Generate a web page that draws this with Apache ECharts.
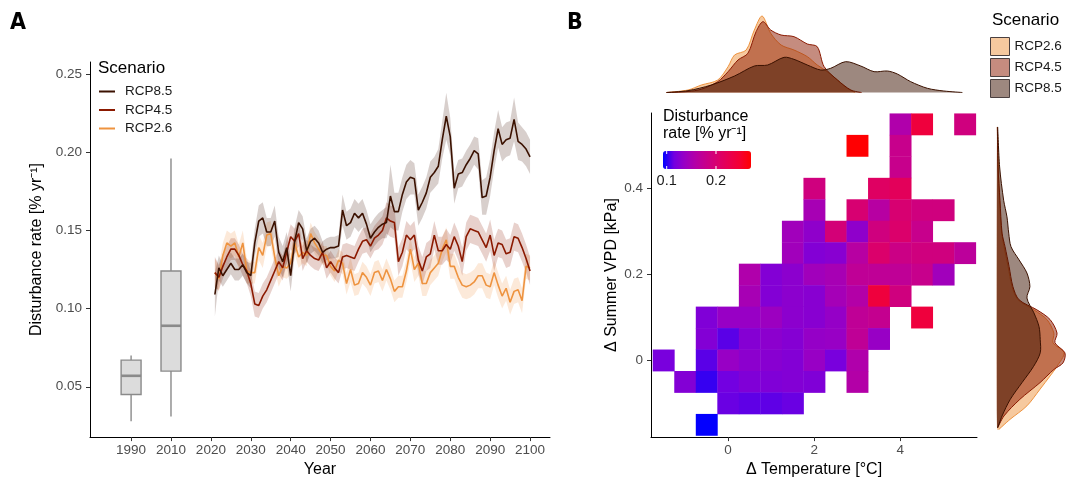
<!DOCTYPE html>
<html>
<head>
<meta charset="utf-8">
<script src="https://cdn.jsdelivr.net/npm/echarts@6/dist/echarts.min.js"></script>
<style>
  html, body { margin: 0; padding: 0; background: #fff; }
  #chart { width: 1067px; height: 483px; }
</style>
</head>
<body>
<div id="chart"></div>
<script>
// ---------- panel A: disturbance rate over time ----------
const years = [];
for (let y = 2021; y <= 2100; y++) years.push(y);

const rcp85 = [
  0.109, 0.126, 0.121, 0.125, 0.129, 0.125, 0.125, 0.128, 0.123, 0.121,
  0.142, 0.156, 0.158, 0.149, 0.149, 0.156, 0.136, 0.130, 0.139, 0.121,
  0.143, 0.155, 0.151, 0.137, 0.143, 0.145, 0.142, 0.136, 0.138, 0.139,
  0.139, 0.140, 0.163, 0.153, 0.155, 0.161, 0.158, 0.161, 0.154, 0.145,
  0.149, 0.152, 0.154, 0.155, 0.172, 0.162, 0.162, 0.173, 0.181, 0.184,
  0.183, 0.163, 0.168, 0.174, 0.184, 0.187, 0.191, 0.208, 0.223, 0.210,
  0.177, 0.186, 0.187, 0.192, 0.196, 0.201, 0.199, 0.171, 0.172, 0.184,
  0.201, 0.215, 0.205, 0.208, 0.209, 0.221, 0.207, 0.205, 0.202, 0.197
];
const rcp45 = [
  0.123, 0.120, 0.127, 0.133, 0.138, 0.138, 0.134, 0.128, 0.124, 0.116,
  0.103, 0.102, 0.108, 0.112, 0.118, 0.124, 0.130, 0.126, 0.136, 0.146,
  0.143, 0.148, 0.132, 0.137, 0.134, 0.132, 0.131, 0.136, 0.126, 0.130,
  0.126, 0.123, 0.133, 0.134, 0.133, 0.132, 0.138, 0.143, 0.144, 0.140,
  0.145, 0.147, 0.150, 0.158, 0.156, 0.155, 0.130, 0.136, 0.147, 0.144,
  0.147, 0.131, 0.124, 0.133, 0.135, 0.147, 0.137, 0.137, 0.141, 0.138,
  0.146, 0.140, 0.130, 0.146, 0.151, 0.150, 0.149, 0.144, 0.139, 0.147,
  0.134, 0.142, 0.141, 0.135, 0.136, 0.146, 0.145, 0.139, 0.132, 0.124
];
const rcp26 = [
  0.123, 0.119, 0.134, 0.142, 0.140, 0.142, 0.133, 0.142, 0.124, 0.123,
  0.123, 0.139, 0.134, 0.147, 0.148, 0.133, 0.121, 0.127, 0.126, 0.129,
  0.142, 0.133, 0.136, 0.134, 0.148, 0.142, 0.138, 0.134, 0.134, 0.127,
  0.124, 0.131, 0.129, 0.116, 0.125, 0.115, 0.116, 0.123, 0.120, 0.115,
  0.123, 0.124, 0.118, 0.125, 0.119, 0.111, 0.114, 0.114, 0.124, 0.138,
  0.125, 0.129, 0.116, 0.116, 0.123, 0.126, 0.129, 0.138, 0.144, 0.127,
  0.127, 0.120, 0.115, 0.114, 0.115, 0.117, 0.121, 0.121, 0.115, 0.114,
  0.123, 0.115, 0.108, 0.113, 0.104, 0.111, 0.112, 0.105, 0.127, 0.126
];
// half-width of the shaded uncertainty ribbons
const err85 = [
  0.014, 0.008, 0.007, 0.007, 0.007, 0.007, 0.007, 0.007, 0.007, 0.008,
  0.009, 0.010, 0.010, 0.009, 0.009, 0.010, 0.010, 0.010, 0.010, 0.010,
  0.009, 0.008, 0.008, 0.008, 0.008, 0.008, 0.008, 0.007, 0.007, 0.007,
  0.007, 0.007, 0.010, 0.009, 0.009, 0.009, 0.009, 0.009, 0.009, 0.009,
  0.009, 0.009, 0.009, 0.010, 0.020, 0.012, 0.012, 0.011, 0.011, 0.011,
  0.010, 0.010, 0.010, 0.010, 0.010, 0.010, 0.011, 0.012, 0.015, 0.012,
  0.010, 0.009, 0.009, 0.009, 0.009, 0.009, 0.010, 0.011, 0.012, 0.012,
  0.012, 0.012, 0.011, 0.011, 0.011, 0.014, 0.012, 0.011, 0.011, 0.011
];
const err45 = [
  0.010, 0.008, 0.008, 0.007, 0.007, 0.007, 0.007, 0.007, 0.008, 0.008,
  0.008, 0.008, 0.008, 0.008, 0.008, 0.008, 0.008, 0.008, 0.008, 0.008,
  0.008, 0.008, 0.008, 0.007, 0.007, 0.007, 0.007, 0.007, 0.007, 0.007,
  0.007, 0.007, 0.008, 0.008, 0.008, 0.008, 0.008, 0.008, 0.008, 0.008,
  0.008, 0.009, 0.009, 0.010, 0.010, 0.010, 0.009, 0.009, 0.009, 0.009,
  0.009, 0.009, 0.009, 0.009, 0.009, 0.009, 0.009, 0.009, 0.010, 0.009,
  0.009, 0.009, 0.009, 0.009, 0.009, 0.009, 0.009, 0.009, 0.009, 0.010,
  0.010, 0.009, 0.009, 0.009, 0.009, 0.009, 0.009, 0.009, 0.009, 0.009
];
const err26 = [
  0.009, 0.008, 0.008, 0.008, 0.008, 0.008, 0.008, 0.008, 0.008, 0.007,
  0.007, 0.008, 0.008, 0.008, 0.008, 0.007, 0.007, 0.007, 0.007, 0.007,
  0.007, 0.007, 0.007, 0.007, 0.007, 0.007, 0.007, 0.006, 0.006, 0.006,
  0.007, 0.007, 0.007, 0.007, 0.008, 0.007, 0.007, 0.007, 0.007, 0.007,
  0.007, 0.007, 0.007, 0.007, 0.007, 0.007, 0.007, 0.007, 0.007, 0.008,
  0.008, 0.008, 0.008, 0.008, 0.008, 0.008, 0.008, 0.008, 0.008, 0.008,
  0.008, 0.008, 0.008, 0.008, 0.008, 0.008, 0.008, 0.008, 0.008, 0.008,
  0.008, 0.008, 0.008, 0.008, 0.008, 0.008, 0.008, 0.008, 0.008, 0.008
];

// observed periods drawn as boxplots: [min, Q1, median, Q3, max]
const boxLabels = ['1990', '2010'];
const boxPositions = [2000, 2010];
const boxStats = [
  [0.028, 0.045, 0.057, 0.067, 0.070],
  [0.031, 0.060, 0.089, 0.124, 0.196]
];

const xTickValues = [2000, 2010, 2020, 2030, 2040, 2050, 2060, 2070, 2080, 2090, 2100];
const xTickLabels = ['1990', '2010', '2020', '2030', '2040', '2050', '2060', '2070', '2080', '2090', '2100'];
const yTicksA = [0.05, 0.10, 0.15, 0.20, 0.25];

// ---------- panel B: climate space heatmap ----------
const tempTicks = [0, 2, 4];
const vpdTicks = [0, 0.2, 0.4];
const binW = 0.5;   // degC
const binH = 0.05;  // kPa
// [delta temperature, delta VPD, disturbance rate]
const heatCells = [
  [4.0, 0.55, 0.155], [4.5, 0.55, 0.240], [5.5, 0.55, 0.190],
  [3.0, 0.50, 0.270], [4.0, 0.50, 0.179],
  [4.0, 0.45, 0.179],
  [2.0, 0.40, 0.190], [3.5, 0.40, 0.212], [4.0, 0.40, 0.218],
  [2.0, 0.35, 0.148], [3.0, 0.35, 0.200], [3.5, 0.35, 0.162], [4.0, 0.35, 0.200], [4.5, 0.35, 0.190], [5.0, 0.35, 0.190],
  [1.5, 0.30, 0.143], [2.0, 0.30, 0.131], [2.5, 0.30, 0.195], [3.0, 0.30, 0.131], [3.5, 0.30, 0.190], [4.0, 0.30, 0.205], [4.5, 0.30, 0.179],
  [1.5, 0.25, 0.143], [2.0, 0.25, 0.124], [2.5, 0.25, 0.127], [3.0, 0.25, 0.162], [3.5, 0.25, 0.205], [4.0, 0.25, 0.184], [4.5, 0.25, 0.190], [5.0, 0.25, 0.190], [5.5, 0.25, 0.167],
  [0.5, 0.20, 0.155], [1.0, 0.20, 0.124], [1.5, 0.20, 0.129], [2.0, 0.20, 0.143], [2.5, 0.20, 0.148], [3.0, 0.20, 0.171], [3.5, 0.20, 0.171], [4.0, 0.20, 0.171], [4.5, 0.20, 0.179], [5.0, 0.20, 0.143],
  [0.5, 0.15, 0.148], [1.0, 0.15, 0.124], [1.5, 0.15, 0.129], [2.0, 0.15, 0.127], [2.5, 0.15, 0.146], [3.0, 0.15, 0.158], [3.5, 0.15, 0.240], [4.0, 0.15, 0.190],
  [-0.5, 0.10, 0.122], [0.0, 0.10, 0.136], [0.5, 0.10, 0.136], [1.0, 0.10, 0.139], [1.5, 0.10, 0.129], [2.0, 0.10, 0.127], [2.5, 0.10, 0.134], [3.0, 0.10, 0.171], [3.5, 0.10, 0.176], [4.5, 0.10, 0.240],
  [-0.5, 0.05, 0.124], [0.0, 0.05, 0.110], [0.5, 0.05, 0.125], [1.0, 0.05, 0.129], [1.5, 0.05, 0.125], [2.0, 0.05, 0.134], [2.5, 0.05, 0.136], [3.0, 0.05, 0.171], [3.5, 0.05, 0.136],
  [-1.5, 0.00, 0.118], [-0.5, 0.00, 0.110], [0.0, 0.00, 0.136], [0.5, 0.00, 0.129], [1.0, 0.00, 0.127], [1.5, 0.00, 0.124], [2.0, 0.00, 0.136], [2.5, 0.00, 0.118], [3.0, 0.00, 0.155],
  [-1.0, -0.05, 0.124], [-0.5, -0.05, 0.103], [0.0, -0.05, 0.115], [0.5, -0.05, 0.122], [1.0, -0.05, 0.122], [1.5, -0.05, 0.124], [2.0, -0.05, 0.122], [3.0, -0.05, 0.158],
  [0.0, -0.10, 0.113], [0.5, -0.10, 0.111], [1.0, -0.10, 0.111], [1.5, -0.10, 0.113],
  [-0.5, -0.15, 0.093]
];
const colorbarMin = 0.0925;
const colorbarMax = 0.271;
const colorbarTicks = [0.1, 0.2];

// marginal densities: [delta temperature, density]
const topDens26 = [[-1.43, 0], [-0.93, 0.015], [-0.62, 0.045], [-0.24, 0.075], [0.0, 0.155], [0.15, 0.225], [0.42, 0.255], [0.61, 0.375], [0.79, 0.459], [0.99, 0.355], [1.23, 0.285], [1.53, 0.255], [1.84, 0.215], [2.07, 0.165], [2.3, 0.125], [2.54, 0.075], [2.77, 0.025], [2.95, 0]];
const topDens45 = [[-1.43, 0], [-0.93, 0.006], [-0.62, 0.02], [-0.24, 0.065], [0.0, 0.125], [0.23, 0.195], [0.46, 0.235], [0.65, 0.365], [0.81, 0.425], [0.99, 0.375], [1.23, 0.345], [1.53, 0.335], [1.84, 0.291], [2.07, 0.275], [2.23, 0.155], [2.54, 0.075], [2.85, 0.015], [3.1, 0]];
const topDens85 = [[-1.43, 0], [-0.93, 0.011], [-0.39, 0.045], [0.15, 0.099], [0.61, 0.159], [0.92, 0.165], [1.3, 0.211], [1.53, 0.199], [1.84, 0.165], [2.15, 0.135], [2.38, 0.145], [2.73, 0.185], [3.08, 0.159], [3.39, 0.125], [3.7, 0.129], [3.93, 0.111], [4.24, 0.065], [4.63, 0.025], [5.01, 0.009], [5.44, 0]];
// [delta VPD, density]
const rightDens26 = [[0.544, 0.02], [0.377, 0.15], [0.302, 0.27], [0.226, 0.63], [0.180, 0.86], [0.150, 1.2], [0.127, 2.11], [0.105, 2.85], [0.074, 3.25], [0.052, 3.2], [0.029, 3.83], [-0.002, 3.43], [-0.024, 3.03], [-0.054, 2.46], [-0.092, 1.71], [-0.123, 0.74], [-0.146, 0.1]];
const rightDens45 = [[0.544, 0.02], [0.453, 0.06], [0.377, 0.17], [0.302, 0.29], [0.271, 0.46], [0.226, 0.69], [0.180, 0.91], [0.150, 1.26], [0.127, 2.28], [0.105, 3.03], [0.074, 3.43], [0.052, 3.31], [0.029, 3.88], [0.006, 3.77], [-0.009, 3.25], [-0.039, 2.46], [-0.077, 1.31], [-0.115, 0.40], [-0.142, 0.04]];
const rightDens85 = [[0.544, 0.04], [0.453, 0.15], [0.377, 0.38], [0.339, 0.57], [0.302, 0.67], [0.271, 0.80], [0.241, 1.26], [0.211, 1.71], [0.180, 1.88], [0.154, 1.71], [0.120, 2.11], [0.089, 2.40], [0.059, 2.47], [0.029, 2.47], [-0.002, 2.09], [-0.039, 1.43], [-0.077, 0.76], [-0.115, 0.29], [-0.142, 0.04]];

// ---------- styling ----------
const FONT = '"Liberation Sans", Arial, sans-serif';
const col85 = '#3b1100';
const col45 = '#8b1900';
const col26 = '#ee933f';
const heatColors = ['#0000ff', '#7300e1', '#9a00c3', '#b500a5', '#c90088', '#da006c', '#e8004f', '#f40031', '#ff0000'];

function rgba(hex, a) {
  const n = parseInt(hex.slice(1), 16);
  return 'rgba(' + (n >> 16) + ',' + ((n >> 8) & 255) + ',' + (n & 255) + ',' + a + ')';
}

function bandSeries(name, vals, errs, color) {
  return {
    type: 'custom', name: name, xAxisIndex: 0, yAxisIndex: 0, silent: true, z: 1,
    data: years.map((y, i) => [y, vals[i] - errs[i], vals[i] + errs[i]]),
    encode: { x: 0, y: [1, 2] },
    renderItem: function (params, api) {
      if (params.dataIndex !== 0) return null;
      const up = years.map((y, i) => api.coord([y, vals[i] + errs[i]]));
      const lo = years.map((y, i) => api.coord([y, vals[i] - errs[i]])).reverse();
      return { type: 'polygon', shape: { points: up.concat(lo) }, style: { fill: rgba(color, 0.2), stroke: null } };
    }
  };
}

function lineSeries(name, vals, color) {
  return {
    type: 'line', name: name, xAxisIndex: 0, yAxisIndex: 0, z: 3,
    data: years.map((y, i) => [y, vals[i]]),
    symbol: 'none', color: color,
    lineStyle: { width: 1.6, color: color },
    itemStyle: { color: color }
  };
}

// density area; horizontal = density runs along x (right-hand margin)
function densitySeries(name, pts, xi, yi, color, horizontal) {
  return {
    type: 'custom', name: name, xAxisIndex: xi, yAxisIndex: yi, silent: true,
    data: pts, encode: horizontal ? { x: 1, y: 0 } : { x: 0, y: 1 },
    itemStyle: { color: rgba(color, 0.5) },
    renderItem: function (params, api) {
      if (params.dataIndex !== 0) return null;
      const curve = pts.map(p => horizontal ? api.coord([p[1], p[0]]) : api.coord(p));
      const a = pts[0][0], b = pts[pts.length - 1][0];
      const base = horizontal ? [api.coord([0, b]), api.coord([0, a])] : [api.coord([b, 0]), api.coord([a, 0])];
      return {
        type: 'group', children: [
          { type: 'polygon', shape: { points: curve.concat(base), smooth: 0.3 }, style: { fill: rgba(color, 0.5), stroke: null } },
          { type: 'polyline', shape: { points: curve, smooth: 0.3 }, style: { stroke: color, lineWidth: 1, fill: null } }
        ]
      };
    }
  };
}

const series = [
  bandSeries('band26', rcp26, err26, col26),
  bandSeries('band45', rcp45, err45, col45),
  bandSeries('band85', rcp85, err85, col85),
  lineSeries('RCP2.6', rcp26, col26),
  lineSeries('RCP4.5', rcp45, col45),
  lineSeries('RCP8.5', rcp85, col85),
  {
    type: 'custom', name: 'observed', xAxisIndex: 0, yAxisIndex: 0, silent: true, z: 2,
    data: boxPositions.map((p, i) => [p].concat(boxStats[i])),
    encode: { x: 0, y: [1, 2, 3, 4, 5] },
    renderItem: function (params, api) {
      const x = api.value(0);
      const pMin = api.coord([x, api.value(1)]);
      const pQ1 = api.coord([x, api.value(2)]);
      const pMed = api.coord([x, api.value(3)]);
      const pQ3 = api.coord([x, api.value(4)]);
      const pMax = api.coord([x, api.value(5)]);
      const hw = api.size([5, 0])[0] / 2;
      const grey = '#8a8a8a';
      return {
        type: 'group', children: [
          { type: 'line', shape: { x1: pMin[0], y1: pMin[1], x2: pQ1[0], y2: pQ1[1] }, style: { stroke: grey, lineWidth: 1.4 } },
          { type: 'line', shape: { x1: pQ3[0], y1: pQ3[1], x2: pMax[0], y2: pMax[1] }, style: { stroke: grey, lineWidth: 1.4 } },
          { type: 'rect', shape: { x: pQ3[0] - hw, y: pQ3[1], width: 2 * hw, height: pQ1[1] - pQ3[1] }, style: { fill: '#dcdcdc', stroke: grey, lineWidth: 1.4 } },
          { type: 'line', shape: { x1: pMed[0] - hw, y1: pMed[1], x2: pMed[0] + hw, y2: pMed[1] }, style: { stroke: grey, lineWidth: 2.6 } }
        ]
      };
    }
  },
  {
    type: 'custom', name: 'heat', xAxisIndex: 1, yAxisIndex: 1, silent: true,
    data: heatCells, encode: { x: 0, y: 1 },
    renderItem: function (params, api) {
      const c = api.coord([api.value(0), api.value(1)]);
      const s = api.size([binW, binH]);
      return {
        type: 'rect',
        shape: { x: c[0] - s[0] / 2, y: c[1] - s[1] / 2, width: s[0] + 0.4, height: s[1] + 0.4 },
        style: { fill: api.visual('color') }
      };
    }
  },
  densitySeries('B:RCP2.6', topDens26, 2, 2, col26, false),
  densitySeries('B:RCP4.5', topDens45, 2, 2, col45, false),
  densitySeries('B:RCP8.5', topDens85, 2, 2, col85, false),
  densitySeries('R:RCP2.6', rightDens26, 3, 3, col26, true),
  densitySeries('R:RCP4.5', rightDens45, 3, 3, col45, true),
  densitySeries('R:RCP8.5', rightDens85, 3, 3, col85, true)
];
const heatIndex = series.findIndex(s => s.name === 'heat');

const axisLine = { show: true, onZero: false, lineStyle: { color: '#000', width: 1 } };
const axisTickStyle = { length: 4, lineStyle: { color: '#333' } };
const labelStyle = { color: '#4d4d4d', fontSize: 13.5, fontFamily: FONT };
const nameStyle = { color: '#000', fontSize: 16, fontFamily: FONT };

// colorbar placement for the heatmap legend
const cbLeft = 663, cbTop = 151, cbLen = 88, cbThick = 18;
function cbX(v) { return cbLeft + (v - colorbarMin) / (colorbarMax - colorbarMin) * cbLen; }

const graphics = [
  { type: 'text', left: 10, top: 12, style: { text: 'A', fontSize: 23, fontWeight: 'bold', fontFamily: '"DejaVu Sans Condensed", "DejaVu Sans"', fill: '#000' } },
  { type: 'text', left: 567, top: 12, style: { text: 'B', fontSize: 23, fontWeight: 'bold', fontFamily: '"DejaVu Sans Condensed", "DejaVu Sans"', fill: '#000' } },
  { type: 'text', left: 98, top: 60, style: { text: 'Scenario', fontSize: 17, fontFamily: FONT, fill: '#000' } },
  { type: 'text', left: 992, top: 12, style: { text: 'Scenario', fontSize: 17, fontFamily: FONT, fill: '#000' } },
  { type: 'text', left: 663, top: 108, style: { text: 'Disturbance\nrate [% yr\u207B\u00B9]', fontSize: 16, lineHeight: 17, fontFamily: FONT, fill: '#000' } }
];
colorbarTicks.forEach(v => {
  const x = cbX(v);
  graphics.push({ type: 'line', z: 100, shape: { x1: x, y1: cbTop, x2: x, y2: cbTop + 3 }, style: { stroke: '#fff', lineWidth: 1 } });
  graphics.push({ type: 'line', z: 100, shape: { x1: x, y1: cbTop + cbThick - 3, x2: x, y2: cbTop + cbThick }, style: { stroke: '#fff', lineWidth: 1 } });
  graphics.push({ type: 'text', x: x, y: cbTop + cbThick + 4, style: { text: String(v), fontSize: 14.5, fontFamily: FONT, fill: '#1a1a1a', align: 'center', verticalAlign: 'top' } });
});

const option = {
  animation: false,
  backgroundColor: '#fff',
  textStyle: { fontFamily: FONT },
  grid: [
    { left: 90, right: 517, top: 62, bottom: 39 },
    { left: 651, right: 90, top: 113, bottom: 39 },
    { left: 651, right: 90, top: 12.5, bottom: 390.5 },
    { left: 997, width: 70, top: 113, bottom: 39 }
  ],
  xAxis: [
    {
      type: 'value', gridIndex: 0, min: 1989.7, max: 2105,
      name: 'Year', nameLocation: 'middle', nameGap: 22, nameTextStyle: nameStyle,
      axisLine: axisLine, splitLine: { show: false },
      axisTick: Object.assign({ customValues: xTickValues }, axisTickStyle),
      axisLabel: Object.assign({ customValues: xTickValues, margin: 6, formatter: v => xTickLabels[xTickValues.indexOf(v)] }, labelStyle)
    },
    {
      type: 'value', gridIndex: 1, min: -1.79, max: 5.78,
      name: '\u0394 Temperature [\u00B0C]', nameLocation: 'middle', nameGap: 22, nameTextStyle: nameStyle,
      axisLine: axisLine, splitLine: { show: false },
      axisTick: Object.assign({ customValues: tempTicks }, axisTickStyle),
      axisLabel: Object.assign({ customValues: tempTicks, margin: 6, formatter: v => String(v) }, labelStyle)
    },
    { type: 'value', gridIndex: 2, min: -1.79, max: 5.78, show: false, splitLine: { show: false } },
    { type: 'value', gridIndex: 3, min: 0, max: 4.0, show: false, splitLine: { show: false } }
  ],
  yAxis: [
    {
      type: 'value', gridIndex: 0, min: 0.0178, max: 0.2577,
      name: 'Disturbance rate [% yr\u207B\u00B9]', nameLocation: 'middle', nameGap: 45, nameRotate: 90, nameTextStyle: nameStyle,
      axisLine: axisLine, splitLine: { show: false },
      axisTick: Object.assign({ customValues: yTicksA }, axisTickStyle),
      axisLabel: Object.assign({ customValues: yTicksA, margin: 8, formatter: v => v.toFixed(2) }, labelStyle)
    },
    {
      type: 'value', gridIndex: 1, min: -0.179, max: 0.576,
      name: '\u0394 Summer VPD [kPa]', nameLocation: 'middle', nameGap: 31, nameRotate: 90, nameTextStyle: nameStyle,
      axisLine: axisLine, splitLine: { show: false },
      axisTick: Object.assign({ customValues: vpdTicks }, axisTickStyle),
      axisLabel: Object.assign({ customValues: vpdTicks, margin: 8, formatter: v => (v === 0 ? '0' : v.toFixed(1)) }, labelStyle)
    },
    { type: 'value', gridIndex: 2, min: 0, max: 0.48, show: false, splitLine: { show: false } },
    { type: 'value', gridIndex: 3, min: -0.179, max: 0.576, show: false, splitLine: { show: false } }
  ],
  legend: [
    {
      orient: 'vertical', left: 99, top: 84, padding: 0, icon: 'rect', itemWidth: 16, itemHeight: 2, itemGap: 3.5,
      selectedMode: false,
      data: ['RCP8.5', 'RCP4.5', 'RCP2.6'],
      textStyle: { fontSize: 13.5, color: '#1a1a1a', lineHeight: 15, padding: [0, 0, 0, 5] }
    },
    {
      orient: 'vertical', left: 990, top: 37, padding: 0, icon: 'rect', itemWidth: 19, itemHeight: 18, itemGap: 2,
      selectedMode: false,
      data: [
        { name: 'B:RCP2.6', itemStyle: { color: rgba(col26, 0.5), borderColor: '#4a4040', borderWidth: 1 } },
        { name: 'B:RCP4.5', itemStyle: { color: rgba(col45, 0.5), borderColor: '#4a4040', borderWidth: 1 } },
        { name: 'B:RCP8.5', itemStyle: { color: rgba(col85, 0.5), borderColor: '#4a4040', borderWidth: 1 } }
      ],
      formatter: name => name.slice(2),
      textStyle: { fontSize: 13.5, color: '#1a1a1a' }
    }
  ],
  visualMap: {
    type: 'continuous', seriesIndex: heatIndex, dimension: 2,
    min: colorbarMin, max: colorbarMax,
    inRange: { color: heatColors },
    orient: 'horizontal', left: cbLeft, top: cbTop,
    itemWidth: cbThick, itemHeight: cbLen,
    calculable: false, hoverLink: false, padding: 0, text: null
  },
  graphic: graphics,
  series: series
};

const chart = echarts.init(document.getElementById('chart'));
chart.setOption(option);
</script>
</body>
</html>
